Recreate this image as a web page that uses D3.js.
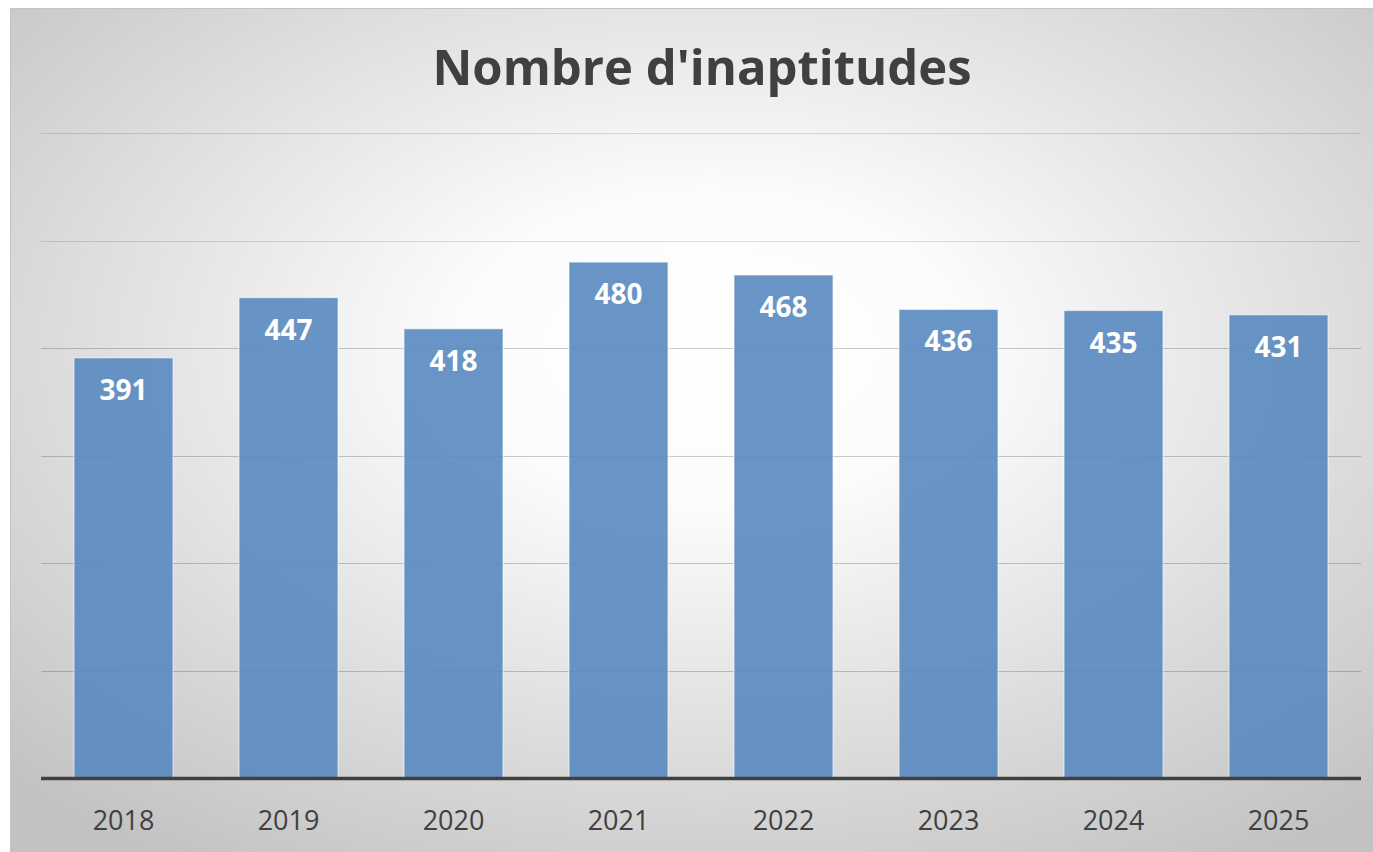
<!DOCTYPE html>
<html>
<head>
<meta charset="utf-8">
<script src="https://cdn.jsdelivr.net/npm/d3@7"></script>
<style>
  html, body { margin: 0; padding: 0; background: #fff; }
  svg { display: block; }
</style>
</head>
<body>
<div id="chart"></div>
<script>
// data
var years = ["2018", "2019", "2020", "2021", "2022", "2023", "2024", "2025"];
var values = [391, 447, 418, 480, 468, 436, 435, 431];
var yTicks = [0, 100, 200, 300, 400, 500, 600];
var title = "Nombre d'inaptitudes";

var W = 1373, H = 852;
var margin = { top: 133, right: 12, bottom: 73.5, left: 41 };
var width = W - margin.left - margin.right;
var height = H - margin.top - margin.bottom;

var svg = d3.select("#chart").append("svg")
  .attr("width", W)
  .attr("height", H);

var defs = svg.append("defs");
var grad = defs.append("radialGradient")
  .attr("id", "bg")
  .attr("cx", "51%").attr("cy", "40%")
  .attr("r", "72%");
grad.append("stop").attr("offset", "0%").attr("stop-color", "#ffffff");
grad.append("stop").attr("offset", "25%").attr("stop-color", "#fcfcfc");
grad.append("stop").attr("offset", "100%").attr("stop-color", "#c2c2c2");

svg.append("rect")
  .attr("x", 10.5).attr("y", 8.5)
  .attr("width", W).attr("height", H)
  .attr("fill", "url(#bg)")
  .attr("stroke", "#c4c4c4");

svg.append("text")
  .attr("x", 702)
  .attr("y", 85)
  .attr("text-anchor", "middle")
  .attr("font-family", "'Open Sans', sans-serif")
  .attr("font-weight", "bold")
  .attr("font-size", 49)
  .attr("fill", "#404040")
  .text(title);

var g = svg.append("g")
  .attr("transform", `translate(${margin.left}, ${margin.top})`);

var x = d3.scaleBand()
  .domain(years)
  .range([0, width])
  .paddingInner(0.4)
  .paddingOuter(0.2);

var y = d3.scaleLinear()
  .domain([0, 600])
  .range([height, 0]);

// gridlines
g.append("g")
  .attr("class", "grid")
  .selectAll("line")
  .data(yTicks.slice(1))
  .enter()
  .append("line")
  .attr("x1", 0)
  .attr("x2", width)
  .attr("y1", d => Math.round(y(d)) + 0.5)
  .attr("y2", d => Math.round(y(d)) + 0.5)
  .attr("stroke", "#000")
  .attr("stroke-opacity", d => d >= 500 ? 0.12 : 0.2);

// bars
g.append("g")
  .selectAll("rect")
  .data(values)
  .enter()
  .append("rect")
  .attr("x", (d, i) => x(years[i]))
  .attr("y", d => y(d))
  .attr("width", x.bandwidth())
  .attr("height", d => height - y(d))
  .attr("fill", "rgb(88,136,192)")
  .attr("fill-opacity", 0.9)
  .attr("stroke", "#ffffff")
  .attr("stroke-opacity", 0.55)
  .attr("stroke-width", 1.2);

// data labels
g.append("g")
  .selectAll("text")
  .data(values)
  .enter()
  .append("text")
  .attr("x", (d, i) => x(years[i]) + x.bandwidth() / 2)
  .attr("y", d => y(d) + 42)
  .attr("text-anchor", "middle")
  .attr("font-family", "'Open Sans', sans-serif")
  .attr("font-weight", "bold")
  .attr("font-size", 28)
  .attr("fill", "#ffffff")
  .text(d => d);

// x axis
var xAxis = g.append("g")
  .attr("transform", `translate(0, ${height})`)
  .call(d3.axisBottom(x).tickSize(0).tickPadding(0));

xAxis.select(".domain").remove();
xAxis.selectAll("text")
  .attr("dy", 0)
  .attr("y", 51)
  .attr("font-family", "'Open Sans', sans-serif")
  .attr("font-size", 27)
  .attr("fill", "#404040");

xAxis.append("line")
  .attr("x1", 0)
  .attr("x2", width)
  .attr("y1", 0)
  .attr("y2", 0)
  .attr("stroke", "#404040")
  .attr("stroke-width", 3.5);
</script>
</body>
</html>
